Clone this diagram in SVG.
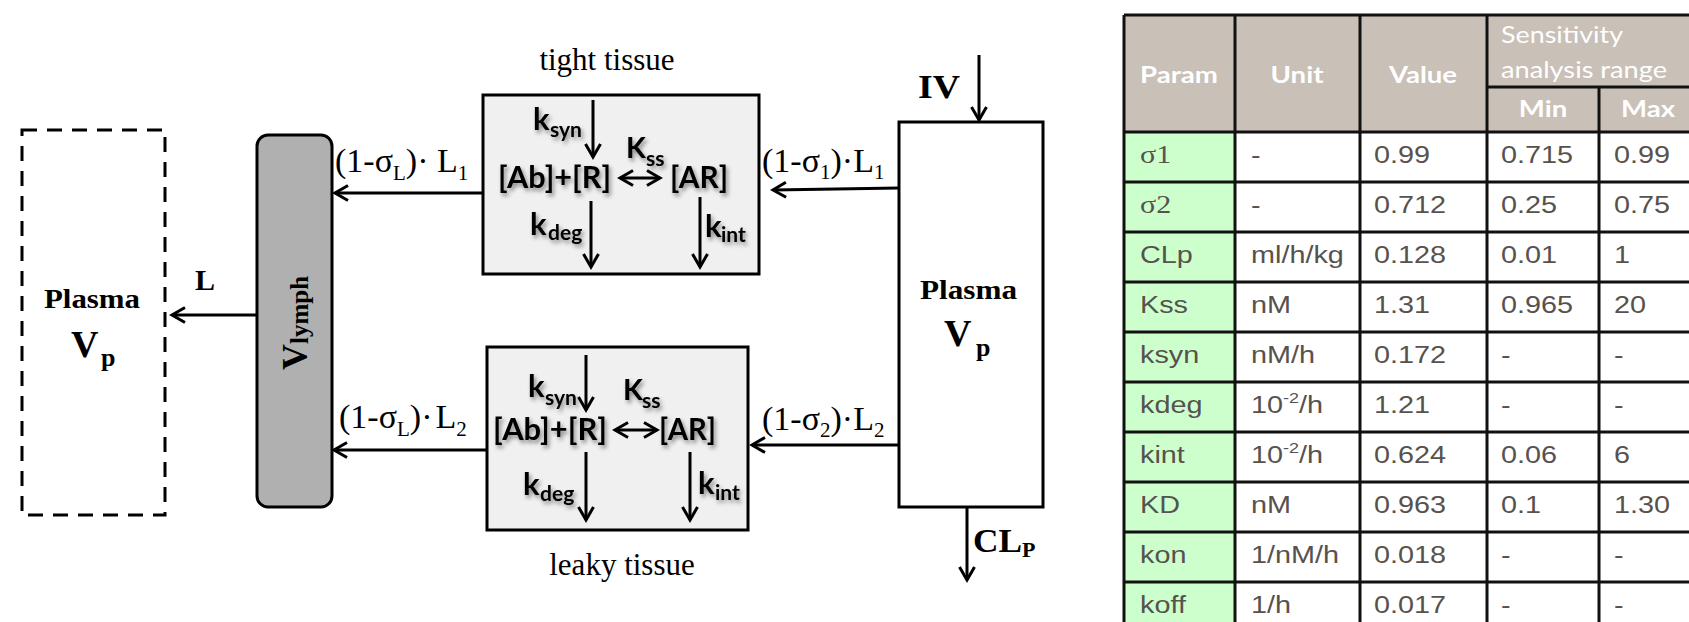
<svg xmlns="http://www.w3.org/2000/svg" width="1689" height="622" viewBox="0 0 1689 622">
<style>
.serif{font-family:"Liberation Serif","Times New Roman",serif;fill:#000}
.sb{font-family:"Liberation Serif","Times New Roman",serif;font-weight:bold;fill:#000}
.sans{font-family:Lato,"Open Sans",sans-serif;font-weight:bold;fill:#000}
.ln{stroke:#000;stroke-width:3;fill:none}
.tl{stroke:#111;stroke-width:3;fill:none}
.hd{font-family:Lato,"Open Sans",sans-serif;font-size:23px;fill:#fff}
.td{font-family:"Liberation Sans",Arial,sans-serif;font-size:24px;fill:#57524e}
.tds{font-family:"Liberation Serif","Times New Roman",serif;font-size:25px;fill:#57524e}
.lbl{font-family:"Liberation Serif","Times New Roman",serif;font-size:34px;fill:#000}
.sub{font-size:21px}
</style>
<defs>
<marker id="ah" viewBox="0 0 18 18" refX="15" refY="9" markerWidth="18" markerHeight="18" markerUnits="userSpaceOnUse" orient="auto-start-reverse">
<path d="M2,1.5 L15,9 L2,16.5" fill="none" stroke="#000" stroke-width="3"/>
</marker>
<filter id="sh" x="-20%" y="-30%" width="140%" height="160%">
<feDropShadow dx="2" dy="3" stdDeviation="2" flood-color="#000" flood-opacity="0.45"/>
</filter>
</defs>
<rect width="1689" height="622" fill="#fff"/>

<g id="plasma-left">
<rect x="22" y="130" width="143" height="385" fill="none" stroke="#000" stroke-width="3" stroke-dasharray="15,10"/>
<text class="sb" x="44" y="308" font-size="27" textLength="96" lengthAdjust="spacingAndGlyphs">Plasma</text>
<text class="sb" x="71" y="357" font-size="38">V</text>
<text class="sb" x="101" y="366" font-size="26">p</text>
</g>

<g id="vlymph">
<rect x="257" y="135" width="75" height="372" rx="11" fill="#b0b0b0" stroke="#000" stroke-width="3"/>
<text class="sb" transform="translate(307,370) rotate(-90)" font-size="36">V<tspan font-size="25" dy="1">lymph</tspan></text>
</g>

<g id="tight-tissue">
<text class="serif" x="607" y="70" font-size="31" text-anchor="middle">tight tissue</text>
<rect x="483" y="95" width="276" height="179" fill="#f0f0f0" stroke="#000" stroke-width="3"/>
<g filter="url(#sh)">
<text class="sans" x="533" y="130" font-size="31">k</text>
<text class="sans" x="550" y="137" font-size="21">syn</text>
<text class="sans" x="626" y="158" font-size="29">K</text>
<text class="sans" x="646" y="166" font-size="21">ss</text>
<text class="sans" x="498" y="188" font-size="31" textLength="113" lengthAdjust="spacingAndGlyphs">[Ab]+[R]</text>
<text class="sans" x="670" y="188" font-size="31" textLength="58" lengthAdjust="spacingAndGlyphs">[AR]</text>
<text class="sans" x="530" y="235" font-size="31">k</text>
<text class="sans" x="548" y="240" font-size="21">deg</text>
<text class="sans" x="705" y="237" font-size="31">k</text>
<text class="sans" x="721" y="242" font-size="21">int</text>
</g>
</g>

<g id="leaky-tissue">
<rect x="487" y="347" width="261" height="183" fill="#f0f0f0" stroke="#000" stroke-width="3"/>
<text class="serif" x="622" y="575" font-size="31" text-anchor="middle">leaky tissue</text>
<g filter="url(#sh)">
<text class="sans" x="528" y="397" font-size="31">k</text>
<text class="sans" x="545" y="405" font-size="21">syn</text>
<text class="sans" x="623" y="400" font-size="29">K</text>
<text class="sans" x="642" y="408" font-size="21">ss</text>
<text class="sans" x="493" y="440" font-size="31" textLength="114" lengthAdjust="spacingAndGlyphs">[Ab]+[R]</text>
<text class="sans" x="659" y="440" font-size="31" textLength="57" lengthAdjust="spacingAndGlyphs">[AR]</text>
<text class="sans" x="523" y="495" font-size="31">k</text>
<text class="sans" x="540" y="501" font-size="21">deg</text>
<text class="sans" x="698" y="494" font-size="31">k</text>
<text class="sans" x="715" y="500" font-size="21">int</text>
</g>
</g>

<g id="plasma-right">
<rect x="899" y="122" width="144" height="385" fill="#fff" stroke="#000" stroke-width="3"/>
<text class="sb" x="920" y="299" font-size="27" textLength="97" lengthAdjust="spacingAndGlyphs">Plasma</text>
<text class="sb" x="944" y="346" font-size="38">V</text>
<text class="sb" x="976" y="356" font-size="26">p</text>
</g>

<g id="connectors">
<line class="ln" x1="257" y1="315" x2="172" y2="315" marker-end="url(#ah)"/>
<line class="ln" x1="483" y1="193" x2="335" y2="193" marker-end="url(#ah)"/>
<line class="ln" x1="487" y1="450" x2="334" y2="450" marker-end="url(#ah)"/>
<line class="ln" x1="899" y1="188" x2="773" y2="190" marker-end="url(#ah)"/>
<line class="ln" x1="899" y1="445" x2="752" y2="445" marker-end="url(#ah)"/>
<line class="ln" x1="979" y1="55" x2="979" y2="120" marker-end="url(#ah)"/>
<line class="ln" x1="967" y1="507" x2="967" y2="580" marker-end="url(#ah)"/>
<line class="ln" x1="593" y1="100" x2="593" y2="157" marker-end="url(#ah)"/>
<line class="ln" x1="591" y1="201" x2="591" y2="267" marker-end="url(#ah)"/>
<line class="ln" x1="700" y1="197" x2="700" y2="267" marker-end="url(#ah)"/>
<line class="ln" x1="620" y1="178" x2="660" y2="178" marker-start="url(#ah)" marker-end="url(#ah)"/>
<line class="ln" x1="586" y1="355" x2="586" y2="410" marker-end="url(#ah)"/>
<line class="ln" x1="586" y1="452" x2="586" y2="520" marker-end="url(#ah)"/>
<line class="ln" x1="690" y1="452" x2="690" y2="520" marker-end="url(#ah)"/>
<line class="ln" x1="615" y1="430" x2="657" y2="430" marker-start="url(#ah)" marker-end="url(#ah)"/>
<text class="sb" x="195" y="290" font-size="30">L</text>
<text class="sb" x="918" y="98" font-size="34" textLength="42" lengthAdjust="spacingAndGlyphs">IV</text>
<text class="sb" x="973" y="552" font-size="33" textLength="49" lengthAdjust="spacingAndGlyphs">CL</text>
<text class="sb" x="1022" y="557" font-size="22">P</text>

<text class="lbl" x="335" y="172">(1-σ<tspan class="sub" dy="8">L</tspan><tspan dy="-8">)· L</tspan><tspan class="sub" dy="8">1</tspan></text>
<text class="lbl" x="339" y="428">(1-σ<tspan class="sub" dy="8">L</tspan><tspan dy="-8">)·</tspan><tspan dx="3">L</tspan><tspan class="sub" dy="8">2</tspan></text>
<text class="lbl" x="762" y="172">(1-σ<tspan class="sub" dy="7">1</tspan><tspan dy="-7">)·L</tspan><tspan class="sub" dy="7">1</tspan></text>
<text class="lbl" x="762" y="430">(1-σ<tspan class="sub" dy="7">2</tspan><tspan dy="-7">)·L</tspan><tspan class="sub" dy="7">2</tspan></text>
</g>

<g id="param-table">
<rect x="1124" y="15" width="565" height="117" fill="#c9c0b7"/>
<rect x="1124" y="132" width="111" height="490" fill="#ccffcc"/>
<path class="tl" d="M1124,15H1689 M1487,87H1689 M1124,132H1689 M1124,182H1689 M1124,232H1689 M1124,282H1689 M1124,332H1689 M1124,382H1689 M1124,432H1689 M1124,482H1689 M1124,532H1689 M1124,582H1689 M1124,15V622 M1235,15V622 M1360,15V622 M1487,15V622 M1599,87V622"/>
<g class="hd" font-weight="bold" text-anchor="middle">
<text transform="translate(1179,83) scale(1.2,1)">Param</text>
<text transform="translate(1297,83) scale(1.2,1)">Unit</text>
<text transform="translate(1423,83) scale(1.2,1)">Value</text>
<text transform="translate(1543,117) scale(1.2,1)">Min</text>
<text transform="translate(1648,117) scale(1.2,1)">Max</text>
</g>
<text class="hd" x="1501" y="43" textLength="122" lengthAdjust="spacingAndGlyphs">Sensitivity</text>
<text class="hd" x="1501" y="78" textLength="166" lengthAdjust="spacingAndGlyphs">analysis range</text>

<g transform="translate(1140,0) scale(1.2,1)">
<text class="tds" x="0" y="163">σ1</text>
<text class="tds" x="0" y="213">σ2</text>
<text class="td" x="0" y="263">CLp</text>
<text class="td" x="0" y="313">Kss</text>
<text class="td" x="0" y="363">ksyn</text>
<text class="td" x="0" y="413">kdeg</text>
<text class="td" x="0" y="463">kint</text>
<text class="td" x="0" y="513">KD</text>
<text class="td" x="0" y="563">kon</text>
<text class="td" x="0" y="613">koff</text>
</g>
<g transform="translate(1251,0) scale(1.2,1)">
<text class="td" x="0" y="163">-</text>
<text class="td" x="0" y="213">-</text>
<text class="td" x="0" y="263">ml/h/kg</text>
<text class="td" x="0" y="313">nM</text>
<text class="td" x="0" y="363">nM/h</text>
<text class="td" x="0" y="413">10<tspan font-size="15" dy="-10">-2</tspan><tspan dy="10">/h</tspan></text>
<text class="td" x="0" y="463">10<tspan font-size="15" dy="-10">-2</tspan><tspan dy="10">/h</tspan></text>
<text class="td" x="0" y="513">nM</text>
<text class="td" x="0" y="563">1/nM/h</text>
<text class="td" x="0" y="613">1/h</text>
</g>
<g transform="translate(1374,0) scale(1.2,1)">
<text class="td" x="0" y="163">0.99</text>
<text class="td" x="0" y="213">0.712</text>
<text class="td" x="0" y="263">0.128</text>
<text class="td" x="0" y="313">1.31</text>
<text class="td" x="0" y="363">0.172</text>
<text class="td" x="0" y="413">1.21</text>
<text class="td" x="0" y="463">0.624</text>
<text class="td" x="0" y="513">0.963</text>
<text class="td" x="0" y="563">0.018</text>
<text class="td" x="0" y="613">0.017</text>
</g>
<g transform="translate(1501,0) scale(1.2,1)">
<text class="td" x="0" y="163">0.715</text>
<text class="td" x="0" y="213">0.25</text>
<text class="td" x="0" y="263">0.01</text>
<text class="td" x="0" y="313">0.965</text>
<text class="td" x="0" y="363">-</text>
<text class="td" x="0" y="413">-</text>
<text class="td" x="0" y="463">0.06</text>
<text class="td" x="0" y="513">0.1</text>
<text class="td" x="0" y="563">-</text>
<text class="td" x="0" y="613">-</text>
</g>
<g transform="translate(1614,0) scale(1.2,1)">
<text class="td" x="0" y="163">0.99</text>
<text class="td" x="0" y="213">0.75</text>
<text class="td" x="0" y="263">1</text>
<text class="td" x="0" y="313">20</text>
<text class="td" x="0" y="363">-</text>
<text class="td" x="0" y="413">-</text>
<text class="td" x="0" y="463">6</text>
<text class="td" x="0" y="513">1.30</text>
<text class="td" x="0" y="563">-</text>
<text class="td" x="0" y="613">-</text>
</g>
</g>
</svg>
